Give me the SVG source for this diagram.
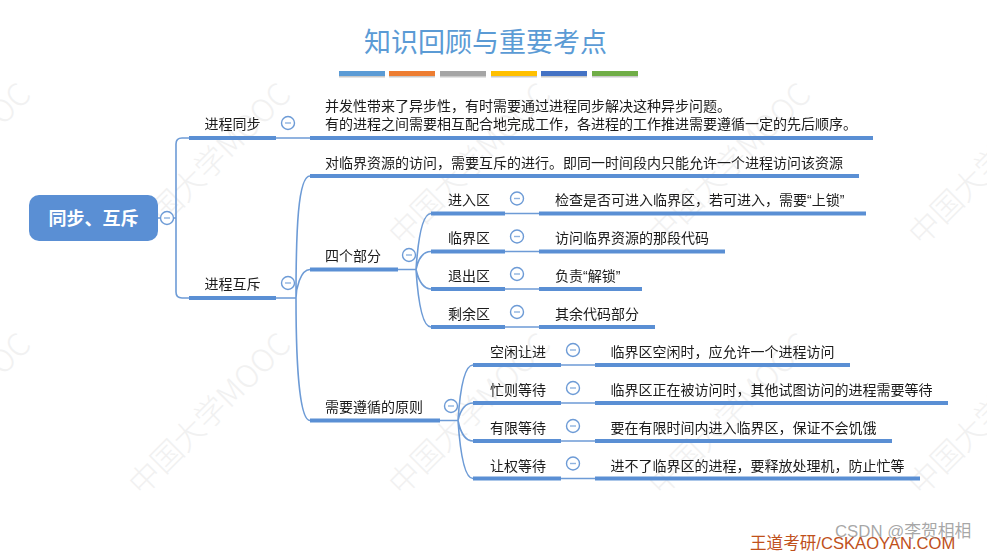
<svg xmlns="http://www.w3.org/2000/svg" width="987" height="552" viewBox="0 0 987 552">
<style>
text{font-family:"Liberation Sans","Noto Sans CJK SC",sans-serif}
.t{font-size:14px;fill:#1a1a1a;filter:url(#soft)}
.wm{font-family:"Noto Sans CJK SC",sans-serif;font-size:31px;font-weight:300;fill:#f1f1f1}
.thick{fill:none;stroke:#5a8fd4;stroke-width:4}
.thin{fill:none;stroke:#6d9bd6;stroke-width:1.6}
.c{fill:#fff;stroke:#6d9bd6;stroke-width:1.4}
.m{stroke:#8fb3e0;stroke-width:1.4}
.sh{fill:#c9c9c9}
</style>
<defs>
<filter id="soft" x="-5%" y="-20%" width="110%" height="140%"><feGaussianBlur stdDeviation="0.3"/></filter>
<g id="tog"><circle class="c" r="6.5"/><line class="m" x1="-3" x2="3" y1="0" y2="0"/></g>
</defs>
<rect width="987" height="552" fill="#fff"/>
<g id="watermarks">
<text class="wm" transform="translate(-118,247) rotate(-45)">中国大学MOOC</text>
<text class="wm" transform="translate(142,247) rotate(-45)">中国大学MOOC</text>
<text class="wm" transform="translate(402,247) rotate(-45)">中国大学MOOC</text>
<text class="wm" transform="translate(662,247) rotate(-45)">中国大学MOOC</text>
<text class="wm" transform="translate(922,247) rotate(-45)">中国大学MOOC</text>
<text class="wm" transform="translate(-118,497) rotate(-45)">中国大学MOOC</text>
<text class="wm" transform="translate(142,497) rotate(-45)">中国大学MOOC</text>
<text class="wm" transform="translate(402,497) rotate(-45)">中国大学MOOC</text>
<text class="wm" transform="translate(662,497) rotate(-45)">中国大学MOOC</text>
<text class="wm" transform="translate(922,497) rotate(-45)">中国大学MOOC</text>
</g>
<g id="title">
<text x="364" y="52" style="font-family:'Noto Sans CJK SC',sans-serif;font-size:27px;fill:#5b9bd5">知识回顾与重要考点</text>
<rect class="sh" x="339" y="72" width="46" height="5.500"/><rect class="sh" x="389" y="72" width="46" height="5.500"/><rect class="sh" x="440" y="72" width="46" height="5.500"/><rect class="sh" x="491" y="72" width="46" height="5.500"/><rect class="sh" x="541" y="72" width="46" height="5.500"/><rect class="sh" x="592" y="72" width="46" height="5.500"/>
<rect x="339" y="71" width="46" height="5" fill="#5b9bd5"/><rect x="389" y="71" width="46" height="5" fill="#ed7d31"/><rect x="440" y="71" width="46" height="5" fill="#a5a5a5"/><rect x="491" y="71" width="46" height="5" fill="#ffc000"/><rect x="541" y="71" width="46" height="5" fill="#4472c4"/><rect x="592" y="71" width="46" height="5" fill="#70ad47"/>
</g>
<g id="connectors">
<path class="thin" d="M158 218H176M189 138H182Q176 138 176 144V292Q176 298 182 298H189"/>
<path class="thin" d="M276 138H310M276 298H296M296 298C296 230 298 176 310 176M296 298C296 290 300 269.500 310 269.500M296 298C296 370 300 420.500 310 420.500"/>
<path class="thin" d="M398 269.500H416M416 269.500C418 240 422 213.500 431 213.500M416 269.500C418 260 422 251.500 431 251.500M416 269.500C418 278 422 289 431 289M416 269.500C418 300 422 327 431 327"/>
<path class="thin" d="M505 213.500H539M505 251.500H539M505 289H539M505 327H539"/>
<path class="thin" d="M440 420.500H458M458 420.500C460 390 464 365 473 365M458 420.500C460 412 464 403 473 403M458 420.500C460 430 464 441 473 441M458 420.500C460 450 464 478.500 473 478.500"/>
<path class="thin" d="M561 365H595M561 403H595M561 441H595M561 478.500H595"/>
</g>
<g id="root"><rect x="29" y="195" width="129" height="46" rx="10" fill="#5a8fd4"/><text x="93.500" y="225" text-anchor="middle" style="font-family:'Noto Sans CJK SC',sans-serif;font-size:18px;font-weight:700;fill:#fff">同步、互斥</text><use href="#tog" x="167" y="218"/></g>
<g id="n-sync"><path class="thick" d="M189 138H276"/><text class="t" x="204.500" y="129">进程同步</text><use href="#tog" x="288" y="123"/></g>
<g id="n-sync-d"><path class="thick" d="M310 138H873"/><text class="t" x="325" y="111">并发性带来了异步性，有时需要通过进程同步解决这种异步问题。</text><text class="t" x="325" y="129">有的进程之间需要相互配合地完成工作，各进程的工作推进需要遵循一定的先后顺序。</text></g>
<g id="n-mutex"><path class="thick" d="M189 298H276"/><text class="t" x="204.500" y="289">进程互斥</text><use href="#tog" x="288" y="283"/></g>
<g id="n-access"><path class="thick" d="M310 176H859"/><text class="t" x="325" y="168">对临界资源的访问，需要互斥的进行。即同一时间段内只能允许一个进程访问该资源</text></g>
<g id="n-parts"><path class="thick" d="M310 269.500H398"/><text class="t" x="325" y="261">四个部分</text><use href="#tog" x="409" y="255"/></g>
<g id="n-enter"><path class="thick" d="M431 213.500H505"/><text class="t" x="448" y="205">进入区</text><use href="#tog" x="517" y="198.500"/></g>
<g id="n-enter-d"><path class="thick" d="M539 213.500H866"/><text class="t" x="555" y="205">检查是否可进入临界区，若可进入，需要“上锁”</text></g>
<g id="n-crit"><path class="thick" d="M431 251.500H505"/><text class="t" x="448" y="243">临界区</text><use href="#tog" x="517" y="236.500"/></g>
<g id="n-crit-d"><path class="thick" d="M539 251.500H725"/><text class="t" x="555" y="243">访问临界资源的那段代码</text></g>
<g id="n-exit"><path class="thick" d="M431 289H505"/><text class="t" x="448" y="281">退出区</text><use href="#tog" x="517" y="274"/></g>
<g id="n-exit-d"><path class="thick" d="M539 289H642"/><text class="t" x="555" y="281">负责“解锁”</text></g>
<g id="n-rest"><path class="thick" d="M431 327H505"/><text class="t" x="448" y="319">剩余区</text><use href="#tog" x="517" y="312"/></g>
<g id="n-rest-d"><path class="thick" d="M539 327H655"/><text class="t" x="555" y="319">其余代码部分</text></g>
<g id="n-rules"><path class="thick" d="M310 420.500H440"/><text class="t" x="325" y="412">需要遵循的原则</text><use href="#tog" x="451" y="406"/></g>
<g id="n-idle"><path class="thick" d="M473 365H561"/><text class="t" x="490" y="357">空闲让进</text><use href="#tog" x="573" y="350"/></g>
<g id="n-idle-d"><path class="thick" d="M595 365H850"/><text class="t" x="610.500" y="357">临界区空闲时，应允许一个进程访问</text></g>
<g id="n-busy"><path class="thick" d="M473 403H561"/><text class="t" x="490" y="395">忙则等待</text><use href="#tog" x="573" y="388"/></g>
<g id="n-busy-d"><path class="thick" d="M595 403H948"/><text class="t" x="610.500" y="395">临界区正在被访问时，其他试图访问的进程需要等待</text></g>
<g id="n-bound"><path class="thick" d="M473 441H561"/><text class="t" x="490" y="433">有限等待</text><use href="#tog" x="573" y="426"/></g>
<g id="n-bound-d"><path class="thick" d="M595 441H892"/><text class="t" x="610.500" y="433">要在有限时间内进入临界区，保证不会饥饿</text></g>
<g id="n-yield"><path class="thick" d="M473 478.500H561"/><text class="t" x="490" y="471">让权等待</text><use href="#tog" x="573" y="463.500"/></g>
<g id="n-yield-d"><path class="thick" d="M595 478.500H920"/><text class="t" x="610.500" y="471">进不了临界区的进程，要释放处理机，防止忙等</text></g>
<g id="footer">
<text x="750" y="548.500" style="font-size:16.600px;fill:#c0501a">王道考研/CSKAOYAN.COM</text>
<text x="835" y="537" style="font-size:16.800px;fill:#8a8a8a;fill-opacity:.75">CSDN @李贺相相</text>
</g>
</svg>
